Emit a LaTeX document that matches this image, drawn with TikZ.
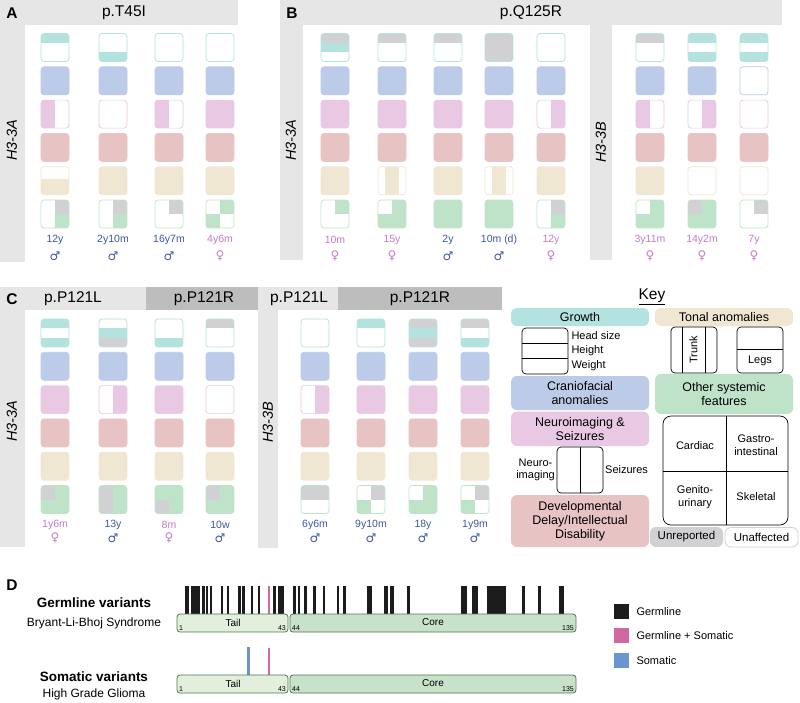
\documentclass[tikz,border=0pt]{standalone}
\usepackage{fontspec}
\setmainfont{Liberation Sans}
\newfontfamily\symfont{DejaVu Sans}
\usetikzlibrary{positioning}

\definecolor{hdrlight}{HTML}{E6E6E6}
\definecolor{hdrdark}{HTML}{BDBDBD}
\definecolor{gw}{HTML}{B4E2DF}
\definecolor{cf}{HTML}{BCCBE8}
\definecolor{ns}{HTML}{E8C8E2}
\definecolor{dd}{HTML}{E8C3C3}
\definecolor{ta}{HTML}{EFE7D2}
\definecolor{os}{HTML}{BEE3C9}
\definecolor{ur}{HTML}{D1D1D3}
\definecolor{malec}{HTML}{3F56A3}
\definecolor{femalec}{HTML}{C57CC8}
\definecolor{tailc}{HTML}{E3EFDD}
\definecolor{corec}{HTML}{C8E1CB}
\definecolor{protline}{HTML}{4D7A48}
\definecolor{germ}{HTML}{1C1C1C}
\definecolor{germsom}{HTML}{D068A2}
\definecolor{som}{HTML}{6A96D0}

\tikzset{
  nofill/.style={fill opacity=0},
  sqline/.style={line width=0.7pt, rounded corners=3},
  title/.style={font=\fontsize{15.5}{17}\selectfont},
  letter/.style={font=\fontsize{15.5}{17}\selectfont\bfseries},
  gene/.style={font=\fontsize{14.5}{16}\selectfont\itshape, rotate=90},
  agetxt/.style={font=\fontsize{10.5}{12}\selectfont},
  sextxt/.style={font=\fontsize{12}{13}\symfont},
  pill/.style={rounded corners=6},
  keytxt/.style={font=\fontsize{12.5}{14}\selectfont, align=center},
  smalltxt/.style={font=\fontsize{11}{12.5}\selectfont, align=center},
  numtxt/.style={font=\fontsize{7}{7}\selectfont, inner sep=1pt},
  protbox/.style={draw=protline, line width=0.8pt, rounded corners=3},
}

% growth: three bands
\newcommand{\bands}[5]{%
  \begin{scope}[shift={(#1,#2)}]
    \begin{scope}
      \clip[rounded corners=3] (-14,-14) rectangle (14,14);
      \fill[#3] (-14,-14) rectangle (14,-4.67);
      \fill[#4] (-14,-4.67) rectangle (14,4.67);
      \fill[#5] (-14,4.67) rectangle (14,14);
    \end{scope}
    \draw[gw,sqline] (-14,-14) rectangle (14,14);
  \end{scope}}
% one colour
\newcommand{\solid}[4]{%
  \draw[fill=#3,draw=#4,sqline] (#1-14,#2-14) rectangle (#1+14,#2+14);}
% neuroimaging | seizures
\newcommand{\halves}[4]{%
  \begin{scope}[shift={(#1,#2)}]
    \begin{scope}
      \clip[rounded corners=3] (-14,-14) rectangle (14,14);
      \fill[#3] (-14,-14) rectangle (0,14);
      \fill[#4] (0,-14) rectangle (14,14);
    \end{scope}
    \draw[ns,sqline] (-14,-14) rectangle (14,14);
  \end{scope}}
% tonal: background, trunk, legs
\newcommand{\tonal}[5]{%
  \begin{scope}[shift={(#1,#2)}]
    \begin{scope}
      \clip[rounded corners=3] (-14,-14) rectangle (14,14);
      \fill[#3] (-14,-14) rectangle (14,14);
      \fill[#4] (-7.3,-14) rectangle (7.3,14);
      \fill[#5] (-14,-1.5) rectangle (14,14);
    \end{scope}
    \draw[ta,sqline] (-14,-14) rectangle (14,14);
  \end{scope}}
% other systemic: four quarters
\newcommand{\quads}[6]{%
  \begin{scope}[shift={(#1,#2)}]
    \begin{scope}
      \clip[rounded corners=3] (-14,-14) rectangle (14,14);
      \fill[#3] (-14,-14) rectangle (0,0);
      \fill[#4] (0,-14) rectangle (14,0);
      \fill[#5] (-14,0) rectangle (0,14);
      \fill[#6] (0,0) rectangle (14,14);
    \end{scope}
    \draw[os,sqline] (-14,-14) rectangle (14,14);
  \end{scope}}
% one column of squares
\newcommand{\patient}[8]{%
  \bands{#1}{#2}#3
  \solid{#1}{#2+33.3}{#4}{cf}
  \halves{#1}{#2+66.6}#5
  \solid{#1}{#2+99.9}{#6}{dd}
  \tonal{#1}{#2+133.2}#7
  \quads{#1}{#2+166.5}#8}
\newcommand{\pmale}[4]{%
  \node[agetxt, text=malec] (age#1-#2) at (#1,#2) {#4};
  \node[sextxt, text=malec] (sex#1-#2) at (#1,#3) {♂};}
\newcommand{\pfemale}[4]{%
  \node[agetxt, text=femalec] (age#1-#2) at (#1,#2) {#4};
  \node[sextxt, text=femalec] (sex#1-#2) at (#1,#3) {♀};}

\begin{document}
\begin{tikzpicture}[x=1pt,y=-1pt]
\useasboundingbox[fill=white] (0,0) rectangle (800,702);

% panel A
\fill[hdrlight] (0,0) rectangle (238,25);
\fill[hdrlight] (0,0) rectangle (25,262);
\node[letter] (lettA) at (12,13) {A};
\node[title] (varA) at (124,13) {p.T45I};
\node[gene] (geneA) at (12,140) {H3-3A};
\patient{55}{47.5}{{gw}{white}{white}}{cf}{{ns}{white}}{dd}{{white}{nofill}{ta}}{{white}{ur}{white}{os}}
\patient{113}{47.5}{{white}{white}{gw}}{cf}{{white}{white}}{dd}{{ta}{ta}{ta}}{{white}{ur}{white}{os}}
\patient{169}{47.5}{{white}{white}{white}}{cf}{{ns}{white}}{dd}{{ta}{ta}{ta}}{{white}{ur}{white}{white}}
\patient{220}{47.5}{{white}{white}{white}}{cf}{{ns}{ns}}{dd}{{ta}{ta}{ta}}{{white}{os}{os}{white}}
\pmale{55}{240}{256}{12y}
\pmale{113}{240}{256}{2y10m}
\pmale{169}{240}{256}{16y7m}
\pfemale{220}{240}{256}{4y6m}

% panel B
\fill[hdrlight] (280,0) rectangle (782,25);
\fill[hdrlight] (280,0) rectangle (303,260);
\fill[hdrlight] (590,0) rectangle (612,260);
\node[letter] (lettB) at (292,13) {B};
\node[title] (varB) at (531,13) {p.Q125R};
\node[gene] (geneBa) at (291,140) {H3-3A};
\node[gene] (geneBb) at (601,142) {H3-3B};
\patient{335}{47.5}{{ur}{gw}{white}}{cf}{{ns}{ns}}{dd}{{ta}{ta}{ta}}{{white}{os}{white}{white}}
\patient{392}{47.5}{{ur}{white}{white}}{cf}{{ns}{ns}}{dd}{{white}{ta}{nofill}}{{white}{os}{os}{os}}
\patient{448}{47.5}{{ur}{white}{white}}{cf}{{ns}{ns}}{dd}{{ta}{ta}{ta}}{{os}{os}{os}{os}}
\patient{499}{47.5}{{ur}{ur}{ur}}{cf}{{ns}{ns}}{dd}{{white}{ta}{nofill}}{{os}{os}{os}{os}}
\patient{551}{47.5}{{white}{white}{white}}{cf}{{white}{ns}}{dd}{{ta}{ta}{ta}}{{white}{ur}{white}{os}}
\patient{650}{47.5}{{ur}{white}{white}}{cf}{{ns}{white}}{dd}{{ta}{ta}{ta}}{{white}{os}{os}{os}}
\patient{702}{47.5}{{gw}{white}{gw}}{cf}{{white}{ns}}{dd}{{white}{nofill}{nofill}}{{ur}{os}{os}{os}}
\patient{754}{47.5}{{gw}{white}{gw}}{white}{{white}{white}}{dd}{{white}{nofill}{nofill}}{{white}{ur}{white}{white}}
\pfemale{335}{240}{256}{10m}
\pfemale{392}{240}{256}{15y}
\pmale{448}{240}{256}{2y}
\pmale{499}{240}{256}{10m (d)}
\pfemale{551}{240}{256}{12y}
\pfemale{650}{240}{256}{3y11m}
\pfemale{702}{240}{256}{14y2m}
\pfemale{754}{240}{256}{7y}

% panel C
\fill[hdrlight] (0,287) rectangle (146,310);
\fill[hdrdark] (146,287) rectangle (258,310);
\fill[hdrlight] (0,287) rectangle (25,547);
\fill[hdrlight] (258,287) rectangle (338,310);
\fill[hdrdark] (338,287) rectangle (502,310);
\fill[hdrlight] (258,287) rectangle (278,548);
\node[letter] (lettC) at (12,299) {C};
\node[title] (varCa) at (73,299) {p.P121L};
\node[title] (varCb) at (204,299) {p.P121R};
\node[title] (varCc) at (299,299) {p.P121L};
\node[title] (varCd) at (420,299) {p.P121R};
\node[gene] (geneCa) at (12,421) {H3-3A};
\node[gene] (geneCb) at (268,422) {H3-3B};
\patient{55}{333}{{gw}{white}{gw}}{cf}{{ns}{ns}}{dd}{{ta}{ta}{ta}}{{ur}{os}{os}{os}}
\patient{113}{333}{{white}{gw}{ur}}{cf}{{white}{ns}}{dd}{{ta}{ta}{ta}}{{ur}{os}{ur}{os}}
\patient{169}{333}{{white}{white}{gw}}{cf}{{ns}{ns}}{dd}{{ta}{ta}{ta}}{{os}{os}{ur}{os}}
\patient{220}{333}{{ur}{white}{white}}{cf}{{white}{white}}{dd}{{ta}{ta}{ta}}{{ur}{os}{os}{os}}
\patient{315}{333}{{white}{white}{white}}{cf}{{white}{ns}}{dd}{{ta}{ta}{ta}}{{ur}{ur}{white}{white}}
\patient{371}{333}{{gw}{white}{white}}{cf}{{ns}{ns}}{dd}{{ta}{ta}{ta}}{{white}{ur}{os}{white}}
\patient{423}{333}{{ur}{gw}{ur}}{cf}{{ns}{ns}}{dd}{{ta}{ta}{ta}}{{white}{os}{os}{os}}
\patient{475}{333}{{ur}{white}{gw}}{cf}{{ns}{ns}}{dd}{{ta}{ta}{ta}}{{white}{ur}{os}{white}}
\pfemale{55}{525}{538}{1y6m}
\pmale{113}{525}{538}{13y}
\pfemale{169}{525}{538}{8m}
\pmale{220}{525}{538}{10w}
\pmale{315}{525}{538}{6y6m}
\pmale{371}{525}{538}{9y10m}
\pmale{423}{525}{538}{18y}
\pmale{475}{525}{538}{1y9m}

% key
\node[title] (keyT) at (652,297) {\underline{Key}};
\fill[gw,pill] (511,308) rectangle (649,326);
\node[keytxt] (kGrowth) at (580,317) {Growth};
\fill[ta,pill] (655,308) rectangle (793,326);
\node[keytxt] (kTonal) at (724,317) {Tonal anomalies};
\draw[line width=0.7pt, rounded corners=4] (522,328) rectangle (568,374);
\draw[line width=0.7pt] (522,343.3) -- (568,343.3) (522,358.7) -- (568,358.7);
\node[smalltxt, anchor=west] (kHead) at (568,336) {Head size};
\node[smalltxt, anchor=west] (kHeight) at (568,351) {Height};
\node[smalltxt, anchor=west] (kWeight) at (568,366) {Weight};
\draw[line width=0.7pt, rounded corners=4] (671,327) rectangle (717,373);
\draw[line width=0.7pt] (682,327) -- (682,373) (705,327) -- (705,373);
\node[smalltxt, rotate=90] (kTrunk) at (693.5,350) {Trunk};
\draw[line width=0.7pt, rounded corners=4] (737,327) rectangle (783,373);
\draw[line width=0.7pt] (737,349) -- (783,349);
\node[smalltxt] (kLegs) at (760,361) {Legs};
\fill[cf,pill] (511,376) rectangle (649,410);
\node[keytxt] (kCranio) at (580,393) {Craniofacial\\anomalies};
\fill[os,pill] (655,374) rectangle (793,414);
\node[keytxt] (kSystemic) at (724,394) {Other systemic\\features};
\fill[ns,pill] (511,411.5) rectangle (649,446);
\node[keytxt] (kNeuro) at (580,429) {Neuroimaging \&\\Seizures};
\draw[line width=0.7pt, rounded corners=4] (557,447) rectangle (603,493);
\draw[line width=0.7pt] (580,447) -- (580,493);
\node[smalltxt, anchor=east, inner sep=1pt] (kImaging) at (556,470) {Neuro-\\imaging};
\node[smalltxt, anchor=west, inner sep=1pt] (kSeizures) at (604,470) {Seizures};
\fill[dd,pill] (511,495) rectangle (649,547);
\node[keytxt] (kDelay) at (580,521) {Developmental\\Delay/Intellectual\\Disability};
\draw[line width=0.7pt, rounded corners=8] (663,416) rectangle (788,525);
\draw[line width=0.7pt] (726,416) -- (726,525) (663,471) -- (788,471);
\node[smalltxt] (kCardiac) at (695,446) {Cardiac};
\node[smalltxt] (kGastro) at (756,445) {Gastro-\\intestinal};
\node[smalltxt] (kGenito) at (695,497) {Genito-\\urinary};
\node[smalltxt] (kSkeletal) at (756,497) {Skeletal};
\fill[ur,pill] (650,527) rectangle (723,547);
\node[keytxt, font=\fontsize{11.5}{13}\selectfont] (kUnrep) at (686.5,537) {Unreported};
\draw[ur,fill=white,pill,line width=0.8pt] (725,527.5) rectangle (798,547);
\node[keytxt, font=\fontsize{11.5}{13}\selectfont] (kUnaff) at (761.5,537) {Unaffected};

% panel D
\node[letter] (lettD) at (12,585) {D};
\node[keytxt, font=\fontsize{13.5}{15}\selectfont\bfseries] (germT) at (94,603) {Germline variants};
\node[keytxt, font=\fontsize{12}{14}\selectfont] (germS) at (94,623) {Bryant-Li-Bhoj Syndrome};
\node[keytxt, font=\fontsize{13.5}{15}\selectfont\bfseries] (somT) at (94,677) {Somatic variants};
\node[keytxt, font=\fontsize{12}{14}\selectfont] (somS) at (94,694) {High Grade Glioma};

\foreach \a/\b in {184.5/188.5, 191/199.5, 202.3/204.5, 206/208.3, 210/212.3, 221/223.3,
    226.7/229, 238.3/240.5, 242.3/244.5, 250.7/253, 257.7/260.3, 273.3/275.5, 277.7/284,
    293.3/296, 297.7/300, 304.3/307, 313.3/315.5, 322.7/325, 336.7/339, 343.3/345.7,
    366.7/372, 384.3/387.7, 390/394, 406.7/410, 461/466.7, 471.7/478.3, 486.7/505.7,
    521.7/525, 537.7/540.7, 559/564.3}
  \fill[germ] (\a,586) rectangle (\b,614);
\fill[germsom] (267.5,586) rectangle (270.3,614);
\fill[som] (246.7,647) rectangle (249.5,675);
\fill[germsom] (267.5,648) rectangle (270.3,675);

\foreach \yy/\nm in {614/a, 675/b} {
  \draw[protbox, fill=tailc] (177,\yy) rectangle (288,\yy+18);
  \draw[protbox, fill=corec] (290,\yy) rectangle (576,\yy+18);
  \node[smalltxt, font=\fontsize{10}{11}\selectfont] (tail\nm) at (233,\yy+8.5) {Tail};
  \node[smalltxt, font=\fontsize{10}{11}\selectfont] (core\nm) at (433,\yy+8.5) {Core};
  \node[numtxt, anchor=south west] (first\nm) at (178,\yy+18) {1};
  \node[numtxt, anchor=south east] (ftail\nm) at (287,\yy+18) {43};
  \node[numtxt, anchor=south west] (fcore\nm) at (291,\yy+18) {44};
  \node[numtxt, anchor=south east] (last\nm) at (575,\yy+18) {135};
}

\fill[germ] (614,604) rectangle (629,619);
\fill[germsom] (614,628) rectangle (629,643);
\fill[som] (614,653) rectangle (629,668);
\node[smalltxt, anchor=west] (legG) at (633,611.5) {Germline};
\node[smalltxt, anchor=west] (legGS) at (633,635.5) {Germline + Somatic};
\node[smalltxt, anchor=west] (legS) at (633,660.5) {Somatic};
\end{tikzpicture}
\end{document}
